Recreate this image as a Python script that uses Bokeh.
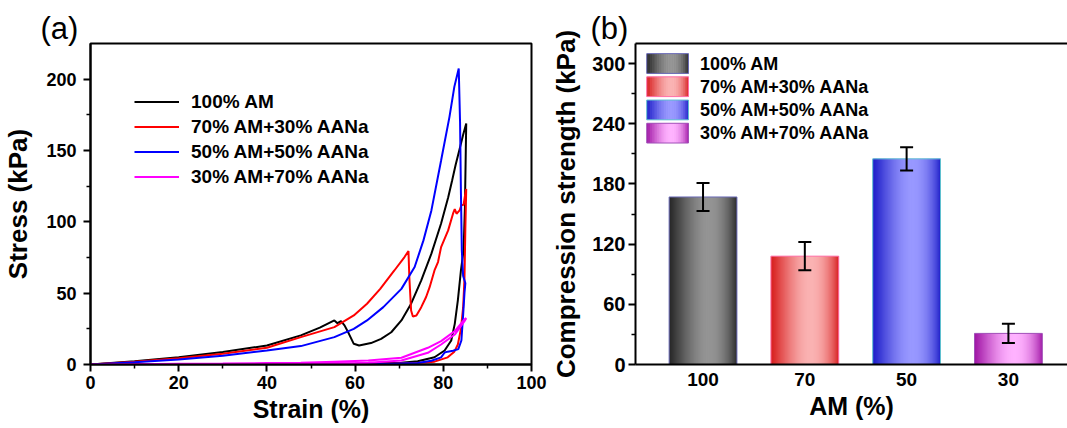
import numpy as np
from bokeh.plotting import figure
from bokeh.models import (ColumnDataSource, Legend, LegendItem, FixedTicker, LinearAxis,
                          Whisker, TeeHead, Title, Range1d)
from bokeh.layouts import row
from bokeh.embed import file_html
from bokeh.resources import INLINE
from bokeh.core.properties import value

FONT = "Liberation Sans"

# ---------------- data: panel (a) stress-strain loops ----------------
series_labels = ["100% AM", "70% AM+30% AANa", "50% AM+50% AANa", "30% AM+70% AANa"]
line_colors = ["#000000", "#ff0000", "#0000ff", "#ff00ff"]

strain_am100 = [0, 10, 20, 30, 40, 47.7, 52, 54.5, 55.3, 56.0, 56.8, 57.6, 58.6, 59.7, 60.9,
                63.6, 65.9, 68.2, 70.5, 72.7, 75.0, 77.3, 79.5, 81.1, 82.0, 82.8, 83.7, 84.5, 85.2,
                85.1, 84.9, 84.6, 84.0, 83.3, 82.6, 81.8, 80.3, 78.0, 74.2, 70.5, 60, 45, 30, 15, 0]
stress_am100 = [0, 2.2, 5.1, 8.8, 13.3, 20.4, 25.8, 29.7, 30.9, 29.0, 30.4, 27.4, 21.5, 14.5, 13.3,
                15.0, 18.0, 22.6, 30.9, 42.6, 59.0, 77.7, 98.8, 117, 129, 140, 151, 161, 168.9,
                150, 110, 80, 66, 45, 28.5, 16.8, 9.8, 5.1, 2.3, 1.2, 0.5, 0.3, 0.2, 0.1, 0]

strain_am70 = [0, 10, 20, 30, 40, 47.7, 55.3, 59.7, 62.7, 65.7, 68.9, 71.2, 72.1, 72.3, 72.7, 73.1,
               73.9, 75.0, 76.1, 76.9, 78.0, 78.8, 79.5, 81.1, 82.2, 82.6, 83.0, 83.7, 84.1, 84.6,
               85.0, 85.2, 85.0, 84.8, 84.5, 84.0, 83.3, 82.5, 81.0, 78.0, 74.0, 60, 40, 20, 0]
stress_am70 = [0, 1.9, 4.4, 7.6, 11.7, 19.2, 26.2, 34.4, 42.6, 53.0, 65.9, 75.3, 79.6, 61, 37.9, 33.7,
               34.4, 40.2, 47.3, 54.2, 65.9, 71.8, 82.3, 94, 105.7, 109, 105.7, 108, 111.6, 112,
               120, 123, 95, 60, 40, 25, 14, 9, 5, 2, 1, 0.4, 0.2, 0.1, 0]

strain_am50 = [0, 10, 20, 30, 40, 47.7, 55.3, 59.7, 62.7, 66.4, 70.5, 73.5, 75.5, 77.3, 79.5, 81.4,
               82.5, 83.5, 83.8, 84.0, 84.2, 84.5, 84.9, 85.0, 84.8, 84.5, 84.1, 83.4, 82.2, 81.0,
               80.3, 79.5, 77.3, 74.2, 65, 50, 30, 15, 0]
stress_am50 = [0, 1.5, 3.5, 6.2, 9.8, 12.9, 19.2, 25.0, 30.9, 40.2, 53.0, 68.3, 87.0, 108, 143, 173.6,
               194.6, 207.5, 170, 120, 80, 62, 58, 57, 50, 35, 16.8, 10.8, 9.6, 9.0,
               8.4, 5.0, 2.6, 1.0, 0.4, 0.2, 0.1, 0.05, 0]

strain_am30 = [0, 10, 20, 30, 40, 47.7, 55.3, 63, 70.5, 76.5, 79.5, 82.6, 84.8, 85.2,
               84.8, 82.6, 79.5, 76.5, 70.5, 63, 55.3, 40, 20, 0]
stress_am30 = [0, 0.2, 0.5, 0.7, 1.0, 1.2, 2.0, 2.8, 4.7, 11.7, 16.4, 23.4, 31.6, 32.5,
               30.4, 21.0, 14.0, 8.2, 2.8, 1.2, 0.5, 0.3, 0.1, 0]

curves = [(strain_am100, stress_am100), (strain_am70, stress_am70),
          (strain_am50, stress_am50), (strain_am30, stress_am30)]

# ---------------- data: panel (b) compression strength ----------------
am_categories = ["100", "70", "50", "30"]
strength = [167, 108, 205, 31]
strength_err = [14, 14, 11.5, 9.5]
bar_edge_rgb = [(38, 38, 38), (215, 28, 28), (28, 28, 200), (160, 22, 165)]
bar_mid_rgb = [(148, 148, 148), (250, 178, 178), (152, 152, 255), (255, 178, 255)]
bar_outline = ["#6a6ab8", "#ff6fa8", "#5fc0d0", "#a050b8"]


def style_axis(ax, label_size, title_size, ls, als, tick_out=7):
    ax.axis_line_width = 2
    ax.axis_line_color = "black"
    ax.major_tick_line_width = 2
    ax.major_tick_line_color = "black"
    ax.major_tick_out = tick_out
    ax.major_tick_in = 0
    ax.minor_tick_line_width = 1.5
    ax.minor_tick_line_color = "black"
    ax.minor_tick_out = 4
    ax.minor_tick_in = 0
    ax.major_label_text_font = FONT
    ax.major_label_text_font_style = "bold"
    ax.major_label_text_font_size = label_size
    ax.major_label_text_color = "black"
    ax.major_label_text_line_height = 1.0
    ax.major_label_standoff = ls
    ax.axis_label_text_font = FONT
    ax.axis_label_text_font_style = "bold"
    ax.axis_label_text_font_size = title_size
    ax.axis_label_text_color = "black"
    ax.axis_label_text_line_height = 1.0
    ax.axis_label_standoff = als


def panel_title(text, offset):
    return Title(text=text, align="left", offset=offset, standoff=-4,
                 text_font=FONT, text_font_style="normal", text_font_size="31px",
                 text_line_height=1.0, text_color="black", vertical_align="bottom")


# ---------------- panel (a) ----------------
pa = figure(width=548, height=428, x_range=Range1d(0, 100), y_range=Range1d(0, 225),
            output_backend="svg", toolbar_location=None,
            min_border_left=90, min_border_right=17, min_border_top=43, min_border_bottom=64)
pa.xgrid.visible = False
pa.ygrid.visible = False
pa.outline_line_color = "black"
pa.outline_line_width = 2
pa.outline_line_alpha = 1
pa.xaxis.ticker = FixedTicker(ticks=[0, 20, 40, 60, 80, 100], minor_ticks=[10, 30, 50, 70, 90])
pa.yaxis.ticker = FixedTicker(ticks=[0, 50, 100, 150, 200], minor_ticks=[25, 75, 125, 175])
pa.xaxis.axis_label = "Strain (%)"
pa.yaxis.axis_label = "Stress (kPa)"
style_axis(pa.xaxis[0], "18px", "25px", 4, 3)
style_axis(pa.yaxis[0], "18px", "26px", 7, 10)

items = []
for (sx, sy), col, lab in zip(curves, line_colors, series_labels):
    src = ColumnDataSource(dict(x=sx, y=sy))
    r = pa.line("x", "y", source=src, line_color=col, line_width=2)
    items.append(LegendItem(label=lab, renderers=[r]))

leg = Legend(items=items, location=(44, 175), orientation="vertical",
             glyph_width=45, glyph_height=25, label_height=25, spacing=0,
             padding=0, margin=0, label_standoff=12,
             label_text_font=FONT, label_text_font_style="bold",
             label_text_font_size="19px", label_text_color="black",
             border_line_color=None, background_fill_alpha=0)
pa.add_layout(leg)
pa.add_layout(panel_title("(a)", -50), "above")

# ---------------- panel (b) ----------------
xpos = np.arange(1, len(am_categories) + 1, dtype=float)
pb = figure(width=519, height=428, x_range=Range1d(0.3366, 4.5805), y_range=Range1d(0, 320),
            output_backend="svg", toolbar_location=None,
            min_border_left=84, min_border_right=0, min_border_top=42, min_border_bottom=61)
pb.xgrid.visible = False
pb.ygrid.visible = False
pb.outline_line_color = None
pb.xaxis.ticker = FixedTicker(ticks=list(xpos))
pb.xaxis.major_label_overrides = {int(x): c for x, c in zip(xpos, am_categories)}
pb.yaxis.ticker = FixedTicker(ticks=[0, 60, 120, 180, 240, 300], minor_ticks=[30, 90, 150, 210, 270])
pb.xaxis.axis_label = "AM (%)"
pb.yaxis.axis_label = "Compression strength (kPa)"
style_axis(pb.xaxis[0], "19px", "25px", 8, 3, tick_out=0)
pb.xaxis.major_tick_line_color = None
pb.xaxis.minor_tick_line_color = None
pb.xaxis.minor_tick_out = 0
style_axis(pb.yaxis[0], "20px", "26px", 3, 8)

top_ax = LinearAxis(ticker=FixedTicker(ticks=[]), major_tick_out=0, minor_tick_out=0,
                    major_label_text_font_size="0px", major_label_standoff=0,
                    axis_label_standoff=0, axis_line_width=2, axis_line_color="black")
pb.add_layout(top_ax, "above")

NSTRIP = 60
u = (np.arange(NSTRIP) + 0.5) / NSTRIP
profile = np.sin(np.pi * u ** 1.3) ** 0.8


def strip_colors(edge, mid):
    e = np.array(edge, float)
    m = np.array(mid, float)
    cols = []
    for t in profile:
        c = e + (m - e) * t
        cols.append("#%02x%02x%02x" % tuple(int(round(v)) for v in c))
    return cols


def gradient_quads(p, left, right, bottom, top, edge, mid):
    step = (right - left) / NSTRIP
    lefts = left + np.arange(NSTRIP) * step
    rights = np.minimum(lefts + step * 1.8, right)
    src = ColumnDataSource(dict(left=lefts, right=rights,
                                bottom=np.full(NSTRIP, bottom), top=np.full(NSTRIP, top),
                                color=strip_colors(edge, mid)))
    p.quad(left="left", right="right", bottom="bottom", top="top", source=src,
           fill_color="color", line_color=None)


BAR_W = 0.666
for i, (x, v) in enumerate(zip(xpos, strength)):
    gradient_quads(pb, x - BAR_W / 2, x + BAR_W / 2, 0, v, bar_edge_rgb[i], bar_mid_rgb[i])
pb.vbar(x=xpos, width=BAR_W, top=strength, fill_color=None, line_color=bar_outline, line_width=1)

err_src = ColumnDataSource(dict(x=xpos,
                                upper=[v + e for v, e in zip(strength, strength_err)],
                                lower=[v - e for v, e in zip(strength, strength_err)]))
pb.add_layout(Whisker(source=err_src, base="x", upper="upper", lower="lower", level="overlay",
                      line_width=2, line_color="black",
                      upper_head=TeeHead(size=13, line_width=2, line_color="black"),
                      lower_head=TeeHead(size=13, line_width=2, line_color="black")))

# legend of panel (b): gradient swatches + labels (layout positions, not data)
leg_left, leg_right = 0.447, 0.857
leg_top0, leg_h, leg_pitch = 309.9, 19.7, 23.14
for i, lab in enumerate(series_labels):
    top = leg_top0 - i * leg_pitch
    bot = top - leg_h
    gradient_quads(pb, leg_left, leg_right, bot, top, bar_edge_rgb[i], bar_mid_rgb[i])
    pb.quad(left=[leg_left], right=[leg_right], bottom=[bot], top=[top],
            fill_color=None, line_color=bar_outline[i], line_width=1)
    pb.text(x=[0.97], y=[(top + bot) / 2], text=[lab], text_font=value(FONT),
            text_font_style="bold", text_font_size="18px", text_baseline="middle",
            text_color="black")

pb.add_layout(panel_title("(b)", -45), "above")

layout = row(pa, pb)
open("out.html", "w").write(file_html(layout, INLINE))
